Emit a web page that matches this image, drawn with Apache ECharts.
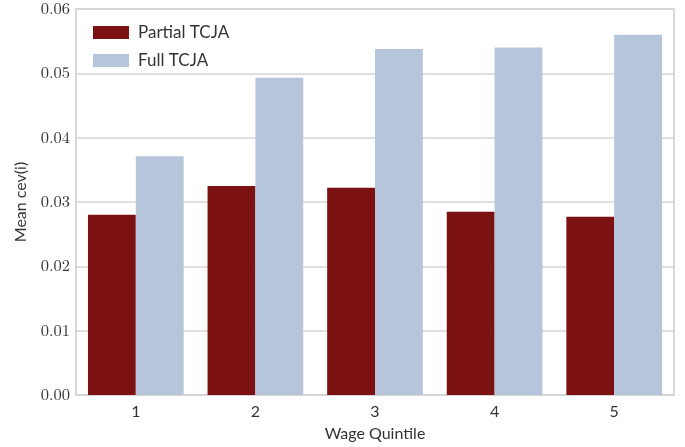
<!DOCTYPE html>
<html>
<head>
<meta charset="utf-8">
<script src="https://cdn.jsdelivr.net/npm/echarts@6/dist/echarts.min.js"></script>
<style>
  html, body { margin: 0; padding: 0; background: #fff; }
  #chart { width: 685px; height: 447px; }
</style>
</head>
<body>
<div id="chart"></div>
<script>
// Mean consumption-equivalent variation by wage quintile
const quintiles = ['1', '2', '3', '4', '5'];
const partialTCJA = [0.0280, 0.0325, 0.0322, 0.0285, 0.0277];
const fullTCJA = [0.0371, 0.0493, 0.0538, 0.0540, 0.0560];
const yTicks = [0, 0.01, 0.02, 0.03, 0.04, 0.05, 0.06];

const serif = '"Latin Modern Roman", "DejaVu Serif", serif';
const sans = 'Lato, "DejaVu Sans", sans-serif';

const chart = echarts.init(document.getElementById('chart'), null, { renderer: 'canvas' });
chart.setOption({
  animation: false,
  backgroundColor: '#ffffff',
  grid: {
    left: 76, right: 11, top: 9, bottom: 50,
    show: true, borderColor: '#cccccc', borderWidth: 1.5, backgroundColor: 'transparent'
  },
  legend: {
    left: 93, top: 24, orient: 'vertical', padding: 0,
    itemWidth: 36, itemHeight: 13, itemGap: 11,
    icon: 'rect',
    textStyle: { fontFamily: sans, fontSize: 17, color: '#333', padding: [0, 0, 0, 4] },
    data: ['Partial TCJA', 'Full TCJA']
  },
  xAxis: {
    type: 'category',
    data: quintiles,
    name: 'Wage Quintile',
    nameLocation: 'middle',
    nameGap: 31,
    nameTextStyle: { fontFamily: sans, fontSize: 16, color: '#333' },
    axisLine: { show: false },
    axisTick: { show: false },
    axisLabel: { fontFamily: sans, fontSize: 16, color: '#333', margin: 9 },
    splitLine: { show: false }
  },
  yAxis: {
    type: 'value',
    min: yTicks[0],
    max: yTicks[yTicks.length - 1],
    interval: 0.01,
    name: 'Mean cev(i)',
    nameLocation: 'middle',
    nameGap: 47,
    nameTextStyle: { fontFamily: sans, fontSize: 16, color: '#333' },
    axisLine: { show: false },
    axisTick: { show: false },
    axisLabel: {
      fontFamily: serif, fontSize: 16.5, color: '#333', margin: 6,
      formatter: v => v.toFixed(2)
    },
    splitLine: { show: true, lineStyle: { color: '#d4d4d4', width: 1.5 } }
  },
  series: [
    {
      name: 'Partial TCJA', type: 'bar', data: partialTCJA,
      itemStyle: { color: '#7b1111' },
      barGap: '0%', barCategoryGap: '20%'
    },
    {
      name: 'Full TCJA', type: 'bar', data: fullTCJA,
      itemStyle: { color: '#b6c5d9' },
      barGap: '0%', barCategoryGap: '20%'
    }
  ]
});
</script>
</body>
</html>
